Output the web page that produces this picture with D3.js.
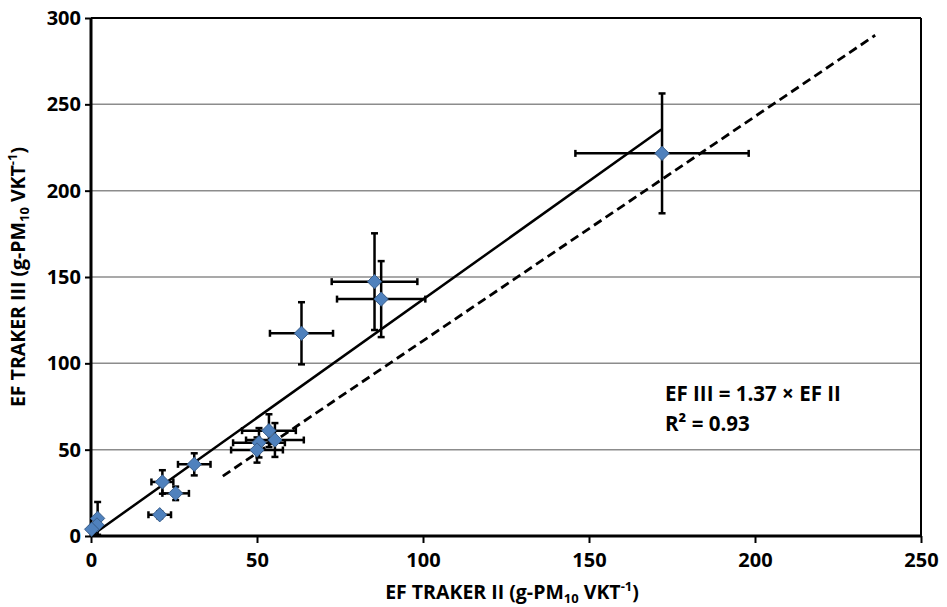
<!DOCTYPE html>
<html><head><meta charset="utf-8">
<script src="https://cdn.jsdelivr.net/npm/d3@7"></script>
<style>body{margin:0;background:#fff}svg{display:block}text{font-family:"Open Sans",sans-serif;font-weight:700;fill:#000}</style>
</head><body><div id="chart"></div>
<script>
// Data (EF TRAKER II vs EF TRAKER III)
const efII    = [172.0, 87.4, 85.4, 63.4, 53.6, 55.4, 50.6, 50.0, 31.1, 21.5, 25.5, 20.7, 2.0, 1.8, 0.2];
const efIII   = [221.6, 137.2, 147.3, 117.4, 61.0, 55.6, 54.0, 49.8, 41.5, 31.3, 24.7, 12.3, 10.2, 6.4, 3.9];
const errII   = [26.1, 13.3, 12.9, 9.5, 8.1, 8.7, 7.8, 7.8, 4.9, 3.3, 4.0, 3.4, 0.6, 0.6, 0.4];
const errIII  = [34.7, 22.0, 28.0, 18.0, 9.5, 9.8, 8.5, 7.3, 6.4, 6.8, 3.9, 2.0, 9.5, 2.0, 1.5];
const fitX    = [0, 171.8];
const fitSlope = 1.37;
const refX    = [39.7, 236.2];
const refY    = [34.7, 290.0];
const xTicks  = [0, 50, 100, 150, 200, 250];
const yTicks  = [0, 50, 100, 150, 200, 250, 300];

const W = 947, H = 607;
const m = {left: 91, top: 18, right: 26, bottom: 71};
const svg = d3.select("#chart").append("svg").attr("width", W).attr("height", H);
const x = d3.scaleLinear().domain([0, 250]).range([m.left, W - m.right]);
const y = d3.scaleLinear().domain([0, 300]).range([H - m.bottom, m.top]);

// gridlines
svg.append("g").selectAll("line").data(yTicks.filter(d => d > 0 && d < 300)).join("line")
  .attr("x1", x(0)).attr("x2", x(250)).attr("y1", d => y(d)).attr("y2", d => y(d))
  .attr("stroke", "#8c8c8c").attr("stroke-width", 1.5);

// frame top/right
svg.append("line").attr("x1", x(0)).attr("x2", x(250)).attr("y1", y(300)).attr("y2", y(300)).attr("stroke", "#000").attr("stroke-width", 2);
svg.append("line").attr("x1", x(250)).attr("x2", x(250)).attr("y1", y(300)).attr("y2", y(0)).attr("stroke", "#000").attr("stroke-width", 2);

// axes
const xAxis = svg.append("g").attr("transform", `translate(0,${y(0)})`)
  .call(d3.axisBottom(x).tickValues(xTicks).tickSize(7).tickPadding(10).tickFormat(d3.format("d")));
const yAxis = svg.append("g").attr("transform", `translate(${x(0)},0)`)
  .call(d3.axisLeft(y).tickValues(yTicks).tickSize(6).tickPadding(4).tickFormat(d3.format("d")));
[xAxis, yAxis].forEach(a => {
  a.select(".domain").attr("stroke", "#000").attr("stroke-width", 3);
  a.selectAll(".tick line").attr("stroke", "#000").attr("stroke-width", 2);
  a.selectAll(".tick text").style("font-size", "20px").style("font-family", "'Open Sans',sans-serif").style("font-weight", "700").attr("fill", "#000");
});
xAxis.select(".domain").attr("d", `M${x(0)},0H${x(250)}`);
yAxis.select(".domain").attr("d", `M0,${y(0)}V${y(300)}`);

// fit line
svg.append("line").attr("x1", x(fitX[0])).attr("y1", y(fitX[0] * fitSlope))
  .attr("x2", x(fitX[1])).attr("y2", y(fitX[1] * fitSlope))
  .attr("stroke", "#000").attr("stroke-width", 2.5);
// dashed line
svg.append("line").attr("x1", x(refX[0])).attr("y1", y(refY[0]))
  .attr("x2", x(refX[1])).attr("y2", y(refY[1]))
  .attr("stroke", "#000").attr("stroke-width", 2.8).attr("stroke-dasharray", "9,5");

// error bars
const pts = efII.map((v, i) => ({x: v, y: efIII[i], ex: errII[i], ey: errIII[i]}));
const eb = svg.append("g").attr("stroke", "#000").attr("stroke-width", 2.5);
const cap = 3.5;
pts.forEach(p => {
  const cx = x(p.x), cy = y(p.y);
  const x0 = x(p.x - p.ex), x1 = x(p.x + p.ex), y0 = y(p.y - p.ey), y1 = y(p.y + p.ey);
  if (x1 - x0 > 3) {
    eb.append("line").attr("x1", x0).attr("x2", x1).attr("y1", cy).attr("y2", cy);
    eb.append("line").attr("x1", x0).attr("x2", x0).attr("y1", cy - cap).attr("y2", cy + cap);
    eb.append("line").attr("x1", x1).attr("x2", x1).attr("y1", cy - cap).attr("y2", cy + cap);
  }
  if (y0 - y1 > 3) {
    eb.append("line").attr("x1", cx).attr("x2", cx).attr("y1", y0).attr("y2", y1);
    eb.append("line").attr("x1", cx - cap).attr("x2", cx + cap).attr("y1", y0).attr("y2", y0);
    eb.append("line").attr("x1", cx - cap).attr("x2", cx + cap).attr("y1", y1).attr("y2", y1);
  }
});

// markers
svg.append("g").selectAll("path").data(pts).join("path")
  .attr("d", d3.symbol(d3.symbolDiamond2, 130))
  .attr("transform", d => `translate(${x(d.x)},${y(d.y)})`)
  .attr("fill", "#4F81BD").attr("stroke", "#385D8A").attr("stroke-width", 1);

// annotation
svg.append("text").attr("x", 665).attr("y", 401).style("font-size", "20.5px").text("EF III = 1.37 × EF II");
svg.append("text").attr("x", 665).attr("y", 431).style("font-size", "20.5px").text("R² = 0.93");

// axis titles
const xt = svg.append("text").attr("x", 512).attr("y", 599).attr("text-anchor", "middle").style("font-size", "19.5px");
xt.append("tspan").text("EF TRAKER II (g-PM");
xt.append("tspan").attr("dy", 4).style("font-size", "13px").text("10");
xt.append("tspan").attr("dy", -4).text(" VKT");
xt.append("tspan").attr("dy", -8).style("font-size", "13px").text("-1");
xt.append("tspan").attr("dy", 8).text(")");

const yt = svg.append("text").attr("transform", `translate(25,${(y(0) + y(300)) / 2}) rotate(-90)`).attr("text-anchor", "middle").style("font-size", "19.5px");
yt.append("tspan").text("EF  TRAKER III (g-PM");
yt.append("tspan").attr("dy", 4).style("font-size", "13px").text("10");
yt.append("tspan").attr("dy", -4).text(" VKT");
yt.append("tspan").attr("dy", -8).style("font-size", "13px").text("-1");
yt.append("tspan").attr("dy", 8).text(")");
</script></body></html>
